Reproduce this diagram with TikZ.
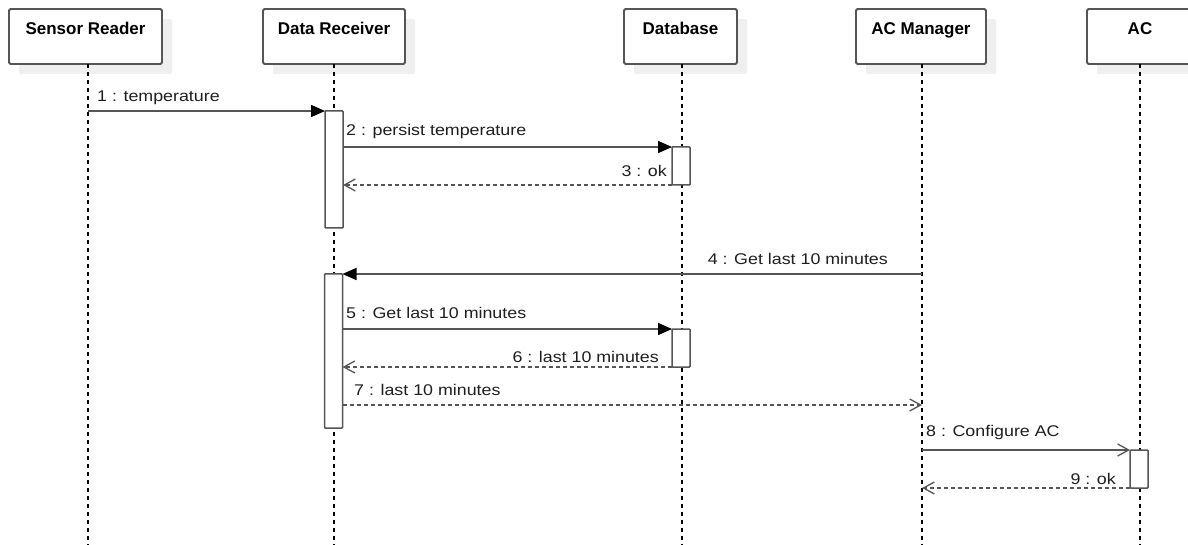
\documentclass[tikz,border=0pt]{standalone}
\usepackage{fontspec}
\setmainfont{Liberation Sans}
\newfontfamily\msgfont[FakeStretch=1.15]{Liberation Sans}
\usetikzlibrary{arrows.meta,shadows}
\definecolor{edgegray}{HTML}{555555}
\definecolor{shadegray}{HTML}{EFEFEF}
\definecolor{inkgray}{HTML}{1E1E1E}

\begin{document}
\begin{tikzpicture}[x=1pt,y=-1pt,
  actor/.style={draw=edgegray, line width=1.8pt, rounded corners=1.5pt,
    fill=white, inner sep=0pt, outer sep=0pt, minimum height=55pt,
    font=\fontsize{17}{20}\selectfont\bfseries, text=black,
    text height=13pt, text depth=17pt,
    drop shadow={shadow xshift=10pt, shadow yshift=-10pt,
      fill=shadegray, opacity=1}},
  lifeline/.style={draw=black, line width=1.1pt, dash pattern=on 4pt off 4pt},
  actbar/.style={draw=edgegray, line width=1.5pt, fill=white, rounded corners=0.8pt,
    inner sep=0pt, outer sep=0pt, minimum width=18pt, anchor=north},
  call/.style={draw=edgegray, line width=1.6pt,
    -{Triangle[length=14pt,width=12pt,fill=black,color=black]}},
  asynccall/.style={draw=edgegray, line width=1.6pt,
    -{Straight Barb[length=11pt,width=12pt,line width=1.3pt]}},
  reply/.style={draw=edgegray, line width=1.5pt, dash pattern=on 4pt off 3pt,
    -{Straight Barb[length=11pt,width=12pt,line width=1.3pt,sep=0pt]}},
  msg/.style={font=\msgfont\fontsize{15.5}{18}\selectfont, text=inkgray, inner sep=0pt}
]
\useasboundingbox (0,0) rectangle (1188,545);

% participants
\node[actor, minimum width=153pt] (sr)  at (85.5,36.5)  {Sensor Reader};
\node[actor, minimum width=142pt] (dr)  at (334,36.5)   {Data Receiver};
\node[actor, minimum width=113pt] (db)  at (680.5,36.5) {Database};
\node[actor, minimum width=130pt] (acm) at (921,36.5)   {AC Manager};
\node[actor, minimum width=106pt] (ac)  at (1140,36.5)  {AC};

% lifelines
\coordinate (srE)  at (88,545);
\coordinate (drE)  at (334,545);
\coordinate (dbE)  at (682,545);
\coordinate (acmE) at (922,545);
\coordinate (acE)  at (1140,545);
\draw[lifeline] (sr.south -| srE) -- (srE);
\draw[lifeline] (dr.south -| drE) -- (drE);
\draw[lifeline] (db.south -| dbE) -- (dbE);
\draw[lifeline] (acm.south -| acmE) -- (acmE);
\draw[lifeline] (ac.south -| acE) -- (acE);

% activation bars
\node[actbar, minimum height=117pt] (act1) at (334,111) {};
\node[actbar, minimum height=38pt]  (act2) at (681,147) {};
\node[actbar, minimum height=154pt] (act3) at (333.5,274) {};
\node[actbar, minimum height=38pt]  (act4) at (681,329) {};
\node[actbar, minimum height=38pt]  (act5) at (1139,450) {};

% message end points on bare lifelines
\coordinate (m1s) at (88,111);
\coordinate (m4s) at (922,274);
\coordinate (m7e) at (922,405);
\coordinate (m8s) at (922,450);

% messages
\draw[call] (m1s) -- (act1.north west);
\draw[call] (act1.east |- act2.north) -- (act2.north west);
\draw[reply] (act2.south west) -- (act1.east |- act2.south);
\draw[call] (m4s) -- (act3.north east);
\draw[call] (act3.east |- act4.north) -- (act4.north west);
\draw[reply] (act4.south west) -- (act3.east |- act4.south);
\draw[reply] (act3.east |- m7e) -- (m7e);
\draw[asynccall] (m8s) -- (act5.north west);
\draw[reply] (act5.south west) -- (m8s |- act5.south);

% message labels
\node[msg, anchor=west] (l1) at (97,97.5)  {1 : temperature};
\node[msg, anchor=west] (l2) at (346,131.5){2 : persist temperature};
\node[msg, anchor=east] (l3) at (667,171)  {3 : ok};
\node[msg, anchor=east] (l4) at (888,258.5){4 : Get last 10 minutes};
\node[msg, anchor=west] (l5) at (346,312.5){5 : Get last 10 minutes};
\node[msg, anchor=east] (l6) at (659,356.5){6 : last 10 minutes};
\node[msg, anchor=west] (l7) at (354,389.5){7 : last 10 minutes};
\node[msg, anchor=west] (l8) at (926,432.5){8 : Configure AC};
\node[msg, anchor=east] (l9) at (1116,478.5){9 : ok};
\end{tikzpicture}
\end{document}
